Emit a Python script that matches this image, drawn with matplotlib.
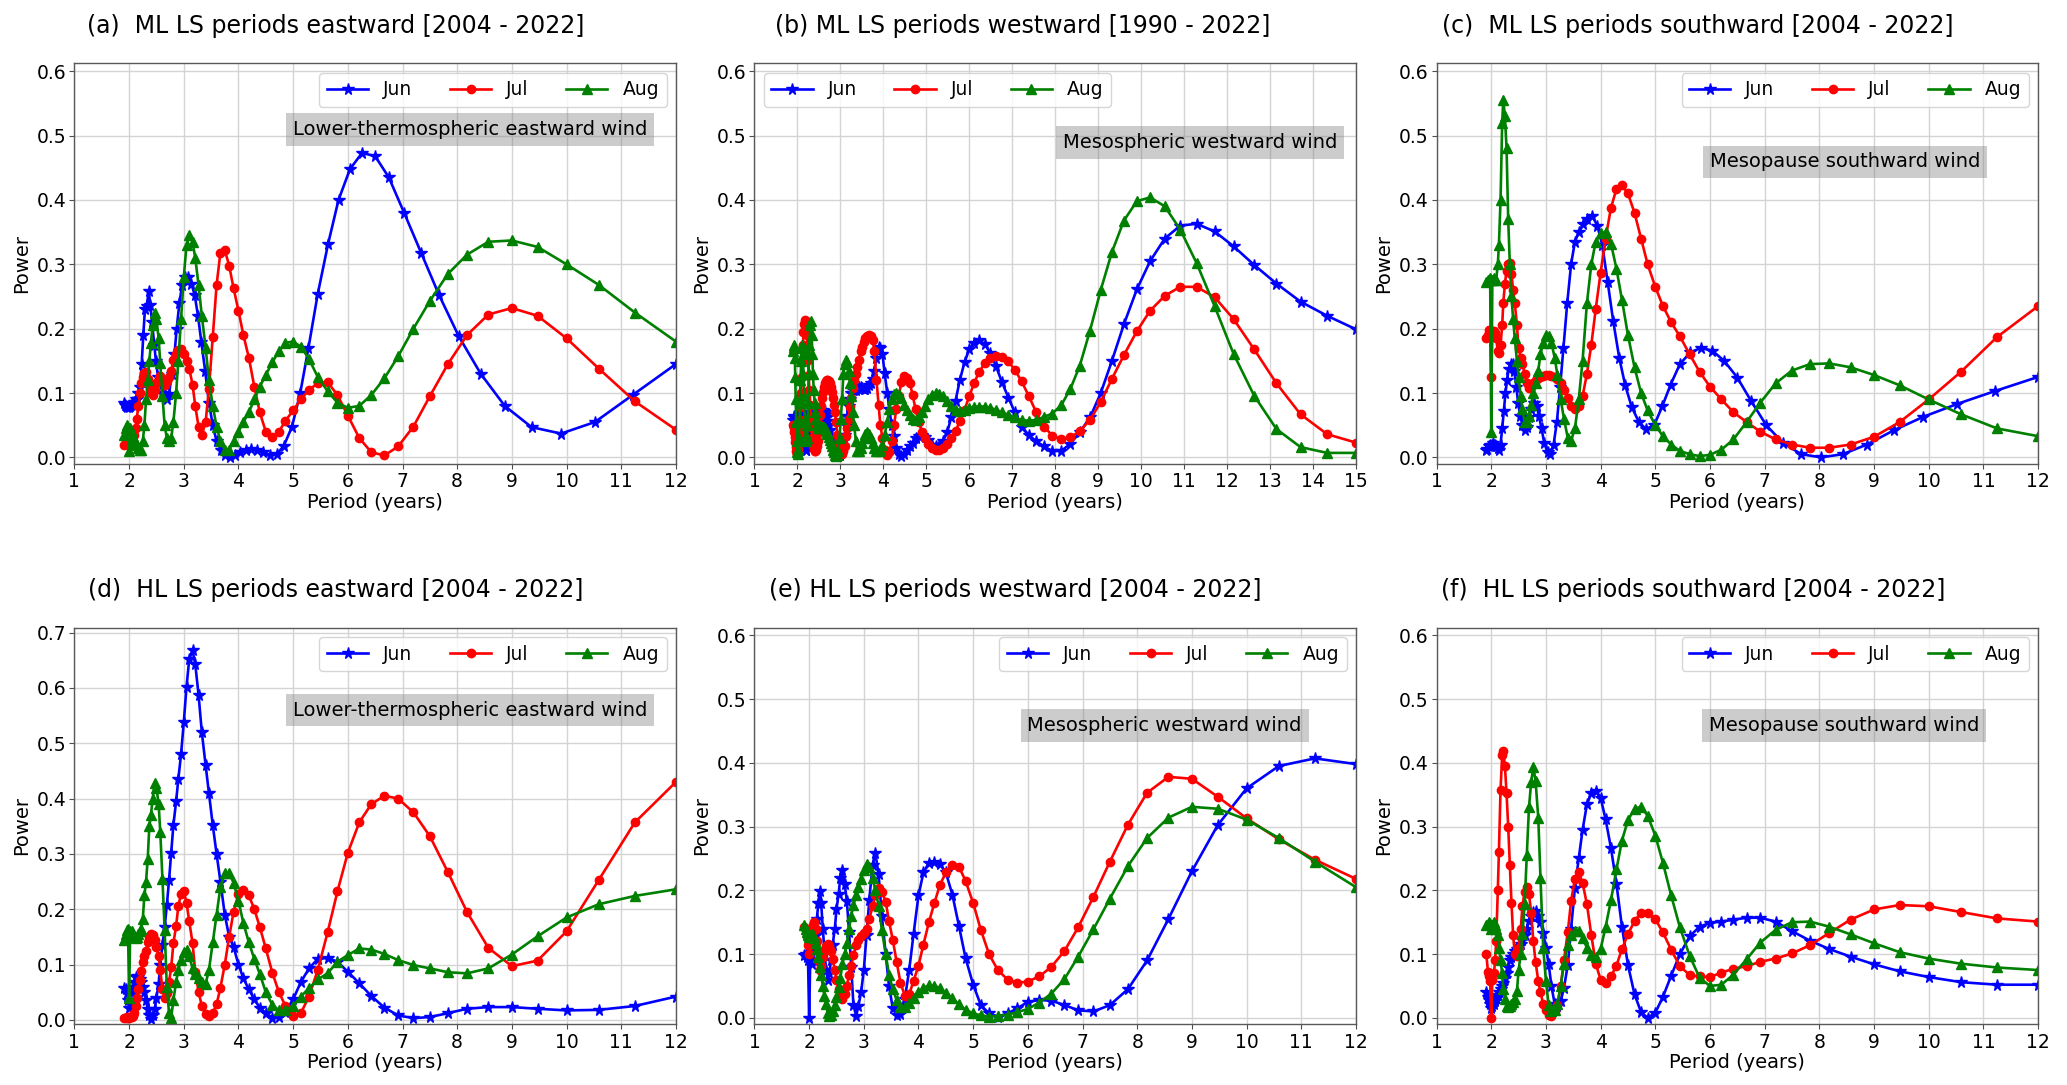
import matplotlib
matplotlib.use("Agg")
import matplotlib.pyplot as plt

plt.rcParams['font.family'] = ['DejaVu Sans']

# ---------------- period grids (years) ----------------
P_G1 = [12.00, 11.21, 10.52, 9.90, 9.36, 8.87, 8.43, 8.03, 7.67, 7.34,
        7.03, 6.75, 6.50, 6.26, 6.04, 5.83, 5.64, 5.45, 5.28, 5.13,
        4.98, 4.83, 4.70, 4.57, 4.45, 4.34, 4.23, 4.13, 4.03, 3.94,
        3.85, 3.76, 3.68, 3.60, 3.53, 3.46, 3.39, 3.32, 3.26, 3.20,
        3.14, 3.08, 3.03, 2.97, 2.92, 2.87, 2.83, 2.78, 2.73, 2.69,
        2.65, 2.61, 2.57, 2.53, 2.49, 2.46, 2.42, 2.39, 2.36, 2.32,
        2.29, 2.26, 2.23, 2.20, 2.17, 2.15, 2.12, 2.09, 2.07, 2.04,
        2.02, 2.00, 1.97, 1.95, 1.93, 1.91]

P_G2 = [12.00, 11.25, 10.59, 10.00, 9.47, 9.00, 8.57, 8.18, 7.83, 7.50,
        7.20, 6.92, 6.67, 6.43, 6.21, 6.00, 5.81, 5.63, 5.45, 5.29,
        5.14, 5.00, 4.86, 4.74, 4.62, 4.50, 4.39, 4.29, 4.19, 4.09,
        4.00, 3.91, 3.83, 3.75, 3.67, 3.60, 3.53, 3.46, 3.40, 3.33,
        3.27, 3.21, 3.16, 3.10, 3.05, 3.00, 2.95, 2.90, 2.86, 2.81,
        2.77, 2.73, 2.69, 2.65, 2.61, 2.57, 2.54, 2.50, 2.47, 2.43,
        2.40, 2.37, 2.34, 2.31, 2.28, 2.25, 2.22, 2.20, 2.17, 2.14,
        2.12, 2.09, 2.07, 2.05, 2.02, 2.00, 1.98, 1.96, 1.94, 1.91]

P_G3 = [15.00, 14.33, 13.71, 13.15, 12.63, 12.15, 11.71, 11.29, 10.91, 10.55,
        10.21, 9.90, 9.60, 9.32, 9.06, 8.81, 8.57, 8.35, 8.14, 7.93,
        7.74, 7.56, 7.38, 7.22, 7.06, 6.91, 6.76, 6.62, 6.49, 6.36,
        6.23, 6.11, 6.00, 5.89, 5.78, 5.68, 5.58, 5.49, 5.39, 5.30,
        5.22, 5.13, 5.05, 4.97, 4.90, 4.82, 4.75, 4.68, 4.62, 4.55,
        4.49, 4.42, 4.36, 4.30, 4.25, 4.19, 4.14, 4.09, 4.03, 3.98,
        3.93, 3.89, 3.84, 3.79, 3.75, 3.71, 3.66, 3.62, 3.58, 3.54,
        3.50, 3.47, 3.43, 3.39, 3.36, 3.32, 3.29, 3.25, 3.22, 3.19,
        3.16, 3.13, 3.10, 3.07, 3.04, 3.01, 2.98, 2.95, 2.93, 2.90,
        2.87, 2.85, 2.82, 2.80, 2.77, 2.75, 2.73, 2.70, 2.68, 2.66,
        2.64, 2.62, 2.59, 2.57, 2.55, 2.53, 2.51, 2.49, 2.47, 2.46,
        2.44, 2.42, 2.40, 2.38, 2.36, 2.35, 2.33, 2.31, 2.30, 2.28,
        2.26, 2.25, 2.23, 2.22, 2.20, 2.19, 2.17, 2.16, 2.14, 2.13,
        2.11, 2.10, 2.09, 2.07, 2.06, 2.05, 2.03, 2.02, 2.01, 2.00,
        1.98, 1.97, 1.96, 1.95, 1.94, 1.92, 1.91, 1.90]

# ---------------- (a) ML eastward ----------------
a_jun = [0.145, 0.097, 0.055, 0.037, 0.047, 0.080, 0.130, 0.188, 0.252, 0.318,
         0.380, 0.435, 0.468, 0.473, 0.448, 0.400, 0.332, 0.254, 0.170, 0.100,
         0.048, 0.018, 0.005, 0.004, 0.008, 0.012, 0.013, 0.012, 0.008, 0.003,
         0.001, 0.003, 0.012, 0.025, 0.050, 0.085, 0.135, 0.180, 0.220, 0.252,
         0.270, 0.280, 0.280, 0.268, 0.240, 0.200, 0.160, 0.130, 0.098, 0.090,
         0.098, 0.100, 0.115, 0.125, 0.150, 0.175, 0.210, 0.236, 0.258, 0.235,
         0.230, 0.190, 0.145, 0.110, 0.100, 0.090, 0.090, 0.086, 0.083, 0.082,
         0.080, 0.078, 0.078, 0.080, 0.082, 0.084]
a_jul = [0.043, 0.087, 0.138, 0.185, 0.220, 0.232, 0.222, 0.190, 0.145, 0.095,
         0.048, 0.017, 0.003, 0.008, 0.030, 0.065, 0.097, 0.117, 0.115, 0.105,
         0.090, 0.073, 0.057, 0.040, 0.032, 0.040, 0.070, 0.110, 0.155, 0.190,
         0.228, 0.263, 0.298, 0.322, 0.318, 0.268, 0.187, 0.107, 0.055, 0.035,
         0.048, 0.080, 0.113, 0.138, 0.150, 0.160, 0.168, 0.167, 0.160, 0.152,
         0.134, 0.125, 0.118, 0.113, 0.120, 0.126, 0.124, 0.115, 0.105, 0.097,
         0.100, 0.112, 0.122, 0.132, 0.131, 0.125, 0.115, 0.100, 0.080, 0.060,
         0.045, 0.035, 0.025, 0.022, 0.020, 0.020, 0.022, 0.025, 0.022, 0.020]
a_aug = [0.180, 0.225, 0.268, 0.300, 0.327, 0.337, 0.335, 0.315, 0.285, 0.243,
         0.200, 0.157, 0.123, 0.097, 0.080, 0.077, 0.085, 0.103, 0.125, 0.153,
         0.172, 0.180, 0.178, 0.165, 0.148, 0.128, 0.110, 0.090, 0.070, 0.055,
         0.040, 0.025, 0.012, 0.012, 0.025, 0.048, 0.080, 0.120, 0.170, 0.220,
         0.268, 0.310, 0.335, 0.345, 0.330, 0.280, 0.215, 0.150, 0.100, 0.055,
         0.030, 0.025, 0.030, 0.050, 0.095, 0.147, 0.185, 0.215, 0.224, 0.206,
         0.178, 0.150, 0.120, 0.090, 0.050, 0.025, 0.012, 0.012, 0.015, 0.020,
         0.022, 0.025, 0.032, 0.040, 0.045, 0.010, 0.045, 0.050, 0.045, 0.035]

# ---------------- (b) ML westward ----------------
b_jun = [0.199, 0.220, 0.242, 0.270, 0.299, 0.328, 0.351, 0.363, 0.360, 0.340,
         0.305, 0.261, 0.207, 0.150, 0.100, 0.062, 0.039, 0.021, 0.010, 0.010,
         0.017, 0.025, 0.035, 0.048, 0.070, 0.093, 0.117, 0.142, 0.162, 0.176,
         0.182, 0.178, 0.168, 0.148, 0.120, 0.088, 0.062, 0.040, 0.026, 0.019,
         0.017, 0.020, 0.027, 0.032, 0.035, 0.034, 0.030, 0.023, 0.017, 0.012,
         0.005, 0.002, 0.006, 0.015, 0.033, 0.050, 0.075, 0.100, 0.131, 0.160,
         0.170, 0.172, 0.155, 0.135, 0.122, 0.115, 0.112, 0.108, 0.107, 0.106,
         0.108, 0.110, 0.110, 0.108, 0.105, 0.105, 0.105, 0.100, 0.090, 0.080,
         0.065, 0.050, 0.035, 0.025, 0.015, 0.008, 0.003, 0.002, 0.002, 0.003,
         0.008, 0.013, 0.020, 0.027, 0.035, 0.042, 0.050, 0.056, 0.062, 0.067,
         0.070, 0.072, 0.073, 0.072, 0.068, 0.063, 0.058, 0.052, 0.045, 0.040,
         0.037, 0.038, 0.043, 0.050, 0.058, 0.064, 0.068, 0.070, 0.068, 0.062,
         0.052, 0.040, 0.028, 0.018, 0.012, 0.012, 0.018, 0.028, 0.040, 0.052,
         0.062, 0.068, 0.070, 0.066, 0.058, 0.046, 0.034, 0.024, 0.020, 0.022,
         0.030, 0.040, 0.050, 0.058, 0.063, 0.064, 0.062, 0.058]
b_jul = [0.023, 0.036, 0.067, 0.115, 0.168, 0.215, 0.249, 0.265, 0.265, 0.251,
         0.228, 0.196, 0.159, 0.122, 0.086, 0.058, 0.041, 0.031, 0.028, 0.034,
         0.048, 0.070, 0.096, 0.118, 0.136, 0.149, 0.156, 0.158, 0.154, 0.146,
         0.133, 0.115, 0.095, 0.074, 0.056, 0.041, 0.030, 0.021, 0.015, 0.012,
         0.012, 0.015, 0.021, 0.030, 0.040, 0.055, 0.075, 0.097, 0.115, 0.124,
         0.127, 0.117, 0.095, 0.075, 0.050, 0.025, 0.008, 0.003, 0.012, 0.030,
         0.050, 0.082, 0.120, 0.165, 0.182, 0.188, 0.190, 0.189, 0.185, 0.180,
         0.172, 0.165, 0.152, 0.140, 0.130, 0.120, 0.108, 0.092, 0.078, 0.060,
         0.045, 0.033, 0.018, 0.010, 0.006, 0.007, 0.012, 0.022, 0.035, 0.055,
         0.070, 0.082, 0.093, 0.102, 0.110, 0.115, 0.118, 0.120, 0.120, 0.118,
         0.115, 0.110, 0.102, 0.092, 0.080, 0.066, 0.052, 0.038, 0.026, 0.018,
         0.012, 0.010, 0.010, 0.013, 0.020, 0.030, 0.045, 0.062, 0.082, 0.105,
         0.128, 0.152, 0.172, 0.190, 0.205, 0.212, 0.213, 0.208, 0.195, 0.175,
         0.150, 0.125, 0.100, 0.078, 0.058, 0.040, 0.026, 0.015, 0.008, 0.005,
         0.006, 0.010, 0.016, 0.024, 0.032, 0.040, 0.046, 0.050]
b_aug = [0.007, 0.007, 0.016, 0.044, 0.096, 0.161, 0.235, 0.302, 0.354, 0.390,
         0.404, 0.398, 0.368, 0.319, 0.260, 0.197, 0.142, 0.106, 0.081, 0.068,
         0.063, 0.058, 0.057, 0.058, 0.062, 0.066, 0.070, 0.074, 0.077, 0.079,
         0.079, 0.078, 0.076, 0.074, 0.072, 0.073, 0.080, 0.088, 0.095, 0.099,
         0.100, 0.097, 0.090, 0.080, 0.070, 0.062, 0.058, 0.060, 0.066, 0.074,
         0.082, 0.092, 0.098, 0.100, 0.098, 0.090, 0.075, 0.055, 0.035, 0.020,
         0.012, 0.010, 0.010, 0.015, 0.022, 0.030, 0.037, 0.040, 0.037, 0.030,
         0.022, 0.015, 0.010, 0.010, 0.025, 0.050, 0.070, 0.095, 0.115, 0.135,
         0.148, 0.152, 0.145, 0.130, 0.090, 0.060, 0.030, 0.010, 0.003, 0.002,
         0.004, 0.008, 0.012, 0.017, 0.022, 0.027, 0.032, 0.036, 0.040, 0.043,
         0.045, 0.047, 0.048, 0.048, 0.047, 0.046, 0.045, 0.045, 0.047, 0.052,
         0.060, 0.070, 0.085, 0.105, 0.130, 0.160, 0.190, 0.212, 0.205, 0.175,
         0.130, 0.085, 0.050, 0.030, 0.025, 0.035, 0.060, 0.095, 0.130, 0.160,
         0.175, 0.170, 0.150, 0.120, 0.085, 0.055, 0.030, 0.012, 0.005, 0.008,
         0.025, 0.055, 0.090, 0.125, 0.155, 0.172, 0.175, 0.165]

# ---------------- (c) ML southward ----------------
c_jun = [0.125, 0.103, 0.083, 0.063, 0.042, 0.020, 0.005, 0.000, 0.005, 0.022,
         0.050, 0.088, 0.124, 0.150, 0.166, 0.170, 0.163, 0.145, 0.113, 0.080,
         0.050, 0.044, 0.055, 0.078, 0.112, 0.155, 0.212, 0.272, 0.330, 0.360,
         0.375, 0.370, 0.362, 0.350, 0.335, 0.300, 0.240, 0.170, 0.110, 0.055,
         0.020, 0.005, 0.008, 0.022, 0.045, 0.065, 0.080, 0.085, 0.075, 0.062,
         0.048, 0.042, 0.050, 0.065, 0.085, 0.110, 0.135, 0.145, 0.145, 0.138,
         0.120, 0.100, 0.072, 0.045, 0.020, 0.012, 0.015, 0.018, 0.020, 0.022,
         0.020, 0.018, 0.020, 0.017, 0.013, 0.012]
c_jul = [0.235, 0.187, 0.133, 0.090, 0.055, 0.032, 0.020, 0.015, 0.015, 0.020,
         0.028, 0.040, 0.055, 0.070, 0.090, 0.110, 0.133, 0.160, 0.188, 0.210,
         0.235, 0.265, 0.300, 0.340, 0.380, 0.410, 0.423, 0.417, 0.388, 0.340,
         0.287, 0.230, 0.175, 0.130, 0.095, 0.080, 0.075, 0.080, 0.092, 0.105,
         0.115, 0.122, 0.125, 0.126, 0.128, 0.128, 0.127, 0.125, 0.124, 0.120,
         0.115, 0.110, 0.108, 0.115, 0.130, 0.145, 0.155, 0.170, 0.205, 0.240,
         0.260, 0.285, 0.302, 0.300, 0.290, 0.270, 0.240, 0.205, 0.175, 0.162,
         0.165, 0.185, 0.193, 0.197, 0.195, 0.125, 0.198, 0.198, 0.190, 0.185]
c_aug = [0.033, 0.045, 0.067, 0.090, 0.112, 0.128, 0.140, 0.146, 0.145, 0.135,
         0.115, 0.085, 0.055, 0.028, 0.012, 0.004, 0.002, 0.005, 0.010, 0.020,
         0.033, 0.050, 0.073, 0.100, 0.140, 0.190, 0.245, 0.293, 0.332, 0.350,
         0.348, 0.335, 0.300, 0.240, 0.150, 0.090, 0.045, 0.026, 0.030, 0.060,
         0.090, 0.128, 0.155, 0.178, 0.188, 0.190, 0.178, 0.160, 0.135, 0.115,
         0.100, 0.082, 0.065, 0.055, 0.055, 0.075, 0.095, 0.125, 0.150, 0.185,
         0.215, 0.250, 0.300, 0.370, 0.480, 0.530, 0.555, 0.520, 0.400, 0.330,
         0.300, 0.276, 0.275, 0.278, 0.275, 0.039, 0.278, 0.276, 0.275, 0.272]

# ---------------- (d) HL eastward ----------------
d_jun = [0.042, 0.025, 0.018, 0.017, 0.020, 0.023, 0.023, 0.020, 0.012, 0.005,
         0.003, 0.008, 0.022, 0.043, 0.066, 0.087, 0.105, 0.112, 0.110, 0.093,
         0.068, 0.037, 0.015, 0.005, 0.004, 0.012, 0.022, 0.037, 0.055, 0.075,
         0.100, 0.132, 0.150, 0.190, 0.250, 0.300, 0.352, 0.410, 0.460, 0.520,
         0.588, 0.643, 0.668, 0.652, 0.602, 0.538, 0.480, 0.435, 0.395, 0.352,
         0.302, 0.252, 0.207, 0.167, 0.135, 0.100, 0.065, 0.040, 0.020, 0.008,
         0.002, 0.008, 0.020, 0.035, 0.050, 0.060, 0.068, 0.074, 0.078, 0.080,
         0.077, 0.068, 0.060, 0.048, 0.030, 0.022, 0.035, 0.048, 0.055, 0.058]
d_jul = [0.430, 0.357, 0.253, 0.160, 0.107, 0.097, 0.130, 0.195, 0.267, 0.332,
         0.375, 0.400, 0.405, 0.390, 0.357, 0.302, 0.232, 0.158, 0.090, 0.042,
         0.012, 0.006, 0.025, 0.050, 0.085, 0.129, 0.168, 0.200, 0.225, 0.234,
         0.228, 0.195, 0.150, 0.100, 0.058, 0.028, 0.012, 0.006, 0.010, 0.025,
         0.051, 0.087, 0.139, 0.178, 0.212, 0.232, 0.228, 0.205, 0.170, 0.138,
         0.095, 0.068, 0.048, 0.040, 0.055, 0.090, 0.115, 0.132, 0.145, 0.153,
         0.155, 0.150, 0.140, 0.125, 0.115, 0.105, 0.088, 0.072, 0.055, 0.040,
         0.025, 0.012, 0.006, 0.005, 0.005, 0.004, 0.004, 0.005, 0.004, 0.004]
d_aug = [0.236, 0.224, 0.209, 0.185, 0.151, 0.118, 0.093, 0.084, 0.086, 0.093,
         0.099, 0.108, 0.119, 0.127, 0.129, 0.117, 0.105, 0.084, 0.073, 0.057,
         0.042, 0.025, 0.018, 0.017, 0.027, 0.050, 0.083, 0.110, 0.140, 0.175,
         0.215, 0.248, 0.265, 0.265, 0.240, 0.190, 0.140, 0.090, 0.065, 0.068,
         0.075, 0.082, 0.093, 0.115, 0.127, 0.122, 0.108, 0.090, 0.068, 0.036,
         0.004, 0.012, 0.060, 0.163, 0.255, 0.340, 0.390, 0.420, 0.428, 0.400,
         0.370, 0.350, 0.290, 0.250, 0.225, 0.182, 0.165, 0.160, 0.155, 0.150,
         0.148, 0.152, 0.155, 0.160, 0.160, 0.040, 0.165, 0.162, 0.155, 0.145]

# ---------------- (e) HL westward ----------------
e_jun = [0.398, 0.407, 0.395, 0.360, 0.302, 0.230, 0.155, 0.090, 0.045, 0.020,
         0.010, 0.012, 0.020, 0.027, 0.028, 0.025, 0.015, 0.007, 0.002, 0.007,
         0.020, 0.052, 0.094, 0.144, 0.193, 0.228, 0.242, 0.245, 0.243, 0.228,
         0.192, 0.132, 0.075, 0.030, 0.006, 0.004, 0.015, 0.050, 0.100, 0.160,
         0.225, 0.259, 0.240, 0.185, 0.130, 0.075, 0.040, 0.018, 0.003, 0.020,
         0.080, 0.135, 0.183, 0.210, 0.232, 0.220, 0.195, 0.170, 0.140, 0.115,
         0.090, 0.070, 0.060, 0.075, 0.105, 0.140, 0.180, 0.199, 0.180, 0.155,
         0.130, 0.105, 0.090, 0.085, 0.090, 0.000, 0.090, 0.095, 0.100, 0.098]
e_jul = [0.218, 0.248, 0.280, 0.313, 0.347, 0.375, 0.378, 0.353, 0.303, 0.245,
         0.190, 0.142, 0.105, 0.080, 0.065, 0.057, 0.055, 0.060, 0.075, 0.100,
         0.138, 0.180, 0.215, 0.237, 0.240, 0.228, 0.208, 0.180, 0.150, 0.115,
         0.082, 0.058, 0.037, 0.035, 0.055, 0.088, 0.122, 0.152, 0.182, 0.198,
         0.204, 0.192, 0.175, 0.155, 0.140, 0.133, 0.128, 0.122, 0.115, 0.098,
         0.082, 0.068, 0.050, 0.038, 0.030, 0.033, 0.045, 0.060, 0.075, 0.092,
         0.105, 0.112, 0.116, 0.112, 0.105, 0.095, 0.082, 0.075, 0.090, 0.120,
         0.140, 0.150, 0.145, 0.135, 0.115, 0.100, 0.115, 0.128, 0.138, 0.142]
e_aug = [0.205, 0.245, 0.282, 0.311, 0.328, 0.331, 0.314, 0.282, 0.238, 0.187,
         0.139, 0.096, 0.061, 0.038, 0.024, 0.014, 0.009, 0.005, 0.003, 0.002,
         0.004, 0.007, 0.013, 0.021, 0.031, 0.039, 0.047, 0.050, 0.051, 0.047,
         0.040, 0.031, 0.023, 0.017, 0.017, 0.028, 0.045, 0.068, 0.100, 0.138,
         0.176, 0.200, 0.220, 0.236, 0.241, 0.232, 0.218, 0.205, 0.192, 0.177,
         0.160, 0.140, 0.118, 0.100, 0.085, 0.062, 0.048, 0.032, 0.020, 0.010,
         0.004, 0.003, 0.008, 0.022, 0.035, 0.050, 0.068, 0.080, 0.095, 0.108,
         0.118, 0.125, 0.130, 0.132, 0.130, 0.127, 0.130, 0.135, 0.140, 0.145]

# ---------------- (f) HL southward ----------------
f_jun = [0.052, 0.052, 0.056, 0.064, 0.073, 0.084, 0.096, 0.108, 0.121, 0.136,
         0.151, 0.157, 0.157, 0.154, 0.151, 0.149, 0.143, 0.128, 0.100, 0.066,
         0.033, 0.008, 0.000, 0.009, 0.037, 0.083, 0.143, 0.210, 0.266, 0.312,
         0.345, 0.356, 0.352, 0.335, 0.295, 0.250, 0.204, 0.140, 0.083, 0.047,
         0.026, 0.018, 0.022, 0.050, 0.085, 0.110, 0.133, 0.150, 0.160, 0.167,
         0.166, 0.160, 0.152, 0.140, 0.130, 0.122, 0.116, 0.112, 0.108, 0.105,
         0.100, 0.095, 0.090, 0.080, 0.070, 0.062, 0.055, 0.050, 0.045, 0.040,
         0.036, 0.031, 0.027, 0.022, 0.018, 0.016, 0.022, 0.028, 0.033, 0.040]
f_jul = [0.151, 0.156, 0.166, 0.175, 0.177, 0.170, 0.154, 0.133, 0.114, 0.101,
         0.093, 0.088, 0.081, 0.077, 0.071, 0.064, 0.065, 0.067, 0.081, 0.107,
         0.134, 0.155, 0.165, 0.165, 0.152, 0.131, 0.108, 0.082, 0.065, 0.055,
         0.060, 0.085, 0.130, 0.178, 0.212, 0.228, 0.218, 0.183, 0.135, 0.090,
         0.050, 0.020, 0.010, 0.003, 0.005, 0.012, 0.022, 0.040, 0.058, 0.088,
         0.120, 0.165, 0.195, 0.206, 0.198, 0.175, 0.140, 0.110, 0.097, 0.100,
         0.130, 0.180, 0.240, 0.300, 0.352, 0.395, 0.418, 0.412, 0.358, 0.260,
         0.200, 0.120, 0.090, 0.070, 0.060, 0.000, 0.058, 0.065, 0.072, 0.100]
f_aug = [0.075, 0.079, 0.085, 0.093, 0.103, 0.117, 0.131, 0.143, 0.151, 0.150,
         0.138, 0.118, 0.092, 0.068, 0.052, 0.050, 0.063, 0.097, 0.142, 0.192,
         0.243, 0.286, 0.317, 0.331, 0.328, 0.310, 0.278, 0.233, 0.185, 0.142,
         0.108, 0.096, 0.098, 0.110, 0.125, 0.137, 0.136, 0.130, 0.115, 0.085,
         0.050, 0.022, 0.012, 0.010, 0.020, 0.058, 0.110, 0.220, 0.314, 0.372,
         0.393, 0.370, 0.330, 0.255, 0.178, 0.131, 0.100, 0.075, 0.042, 0.030,
         0.025, 0.022, 0.018, 0.017, 0.018, 0.030, 0.045, 0.070, 0.090, 0.110,
         0.130, 0.140, 0.145, 0.150, 0.145, 0.140, 0.148, 0.150, 0.147, 0.145]

months = ['Jun', 'Jul', 'Aug']

titles = ['(a)  ML LS periods eastward [2004 - 2022]',
          '(b) ML LS periods westward [1990 - 2022]',
          '(c)  ML LS periods southward [2004 - 2022]',
          '(d)  HL LS periods eastward [2004 - 2022]',
          '(e) HL LS periods westward [2004 - 2022]',
          '(f)  HL LS periods southward [2004 - 2022]']

notes = ['Lower-thermospheric eastward wind',
         'Mesospheric westward wind',
         'Mesopause southward wind',
         'Lower-thermospheric eastward wind',
         'Mesospheric westward wind',
         'Mesopause southward wind']

series = [
    ((P_G1, a_jun), (P_G2, a_jul), (P_G2, a_aug)),
    ((P_G3, b_jun), (P_G3, b_jul), (P_G3, b_aug)),
    ((P_G1, c_jun), (P_G2, c_jul), (P_G2, c_aug)),
    ((P_G2, d_jun), (P_G2, d_jul), (P_G2, d_aug)),
    ((P_G2, e_jun), (P_G2, e_jul), (P_G2, e_aug)),
    ((P_G2, f_jun), (P_G2, f_jul), (P_G2, f_aug)),
]

# layout / styling
xmaxs = [12, 15, 12, 12, 12, 12]
ytops = [0.6, 0.6, 0.6, 0.7, 0.6, 0.6]
note_pos = [(8.24, 0.509), (11.37, 0.489), (8.47, 0.459),
            (8.24, 0.560), (8.50, 0.459), (8.46, 0.459)]
title_x = [0.435, 0.446, 0.434, 0.435, 0.433, 0.426]
leg_loc = ['upper right', 'upper left', 'upper right',
           'upper right', 'upper right', 'upper right']

lefts = [0.0360, 0.3650, 0.6950]
width = 0.2910
rows = [(0.5725, 0.3690), (0.0560, 0.3655)]

styles = [dict(color='blue', marker='*', ms=8.5),
          dict(color='red', marker='o', ms=6.0),
          dict(color='green', marker='^', ms=6.5)]

fig = plt.figure(figsize=(20.67, 10.85), dpi=100)

for i in range(6):
    r, c = divmod(i, 3)
    bottom, height = rows[r]
    ax = fig.add_axes([lefts[c], bottom, width, height])
    for (px, py), lab, st in zip(series[i], months, styles):
        ax.plot(px, py, label=lab, lw=1.9, mew=1.0, **st)
    ax.set_xlim(1, xmaxs[i])
    top = ytops[i]
    ax.set_ylim(-0.01 if top < 0.65 else -0.008, top + 0.012 if top < 0.65 else top + 0.009)
    ax.set_xticks(list(range(1, xmaxs[i] + 1)))
    ax.set_yticks([k / 10 for k in range(0, int(round(top * 10)) + 1)])
    ax.set_yticklabels([f'{k / 10:.1f}' for k in range(0, int(round(top * 10)) + 1)])
    ax.tick_params(labelsize=13.5, pad=2.5, color='0.3')
    ax.grid(True, color='#d4d4d4', lw=1.0)
    ax.set_axisbelow(True)
    for sp in ax.spines.values():
        sp.set_color('0.35')
        sp.set_linewidth(1.0)
    ax.set_xlabel('Period (years)', fontsize=14, labelpad=1)
    ax.set_ylabel('Power', fontsize=14, labelpad=4)
    ax.set_title(titles[i], fontsize=17, x=title_x[i], pad=22)
    ax.legend(loc=leg_loc[i], ncol=3, fontsize=13.5, handlelength=2.2)
    nx, ny = note_pos[i]
    ax.text(nx, ny, notes[i], fontsize=14, ha='center', va='center',
            bbox=dict(boxstyle='square,pad=0.35', facecolor='gray',
                      edgecolor='none', alpha=0.4))

fig.savefig('out.png', dpi=100)
